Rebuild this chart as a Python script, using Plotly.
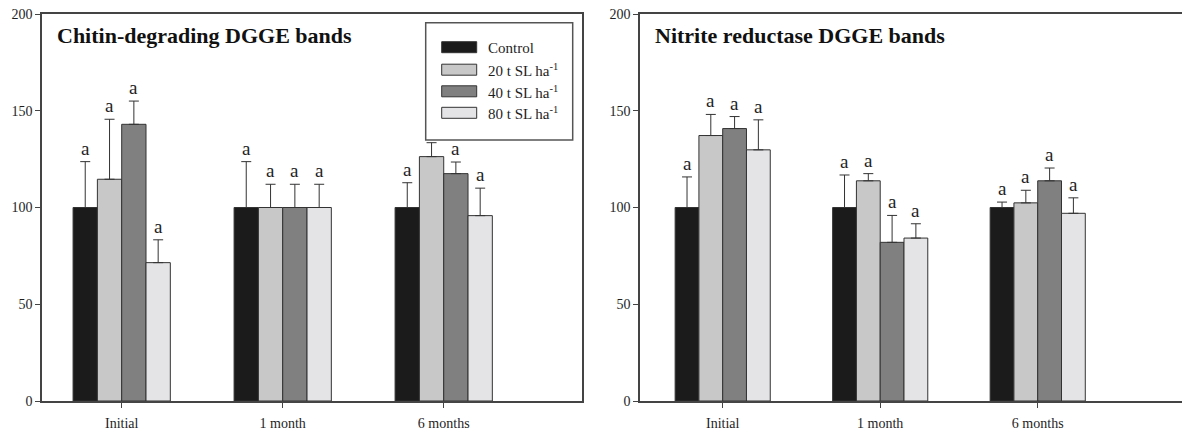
import plotly.graph_objects as go

# ---- data -------------------------------------------------------------
times = ["Initial", "1 month", "6 months"]
treatments = ["Control", "20 t SL ha<sup>-1</sup>", "40 t SL ha<sup>-1</sup>", "80 t SL ha<sup>-1</sup>"]

# Chitin-degrading DGGE bands (mean, upper error)
chitin_mean = {
    "Control": [100.0, 100.0, 100.0],
    "20t": [114.6, 100.0, 126.3],
    "40t": [143.0, 100.0, 117.5],
    "80t": [71.5, 100.0, 95.8],
}
chitin_err = {
    "Control": [23.7, 23.7, 12.8],
    "20t": [31.0, 12.0, 7.2],
    "40t": [12.0, 12.0, 6.0],
    "80t": [11.8, 12.0, 14.2],
}
chitin_letters = {
    "Control": ["a", "a", "a"],
    "20t": ["a", "a", ""],   # letter under the legend box is not shown
    "40t": ["a", "a", "a"],
    "80t": ["a", "a", "a"],
}

# Nitrite reductase DGGE bands (mean, upper error)
nitrite_mean = {
    "Control": [100.0, 100.0, 100.0],
    "20t": [137.2, 113.8, 102.4],
    "40t": [140.8, 82.0, 113.8],
    "80t": [129.8, 84.2, 97.0],
}
nitrite_err = {
    "Control": [15.8, 16.8, 2.8],
    "20t": [10.9, 3.7, 6.5],
    "40t": [6.2, 13.9, 6.6],
    "80t": [15.5, 7.4, 8.0],
}
nitrite_letters = {
    "Control": ["a", "a", "a"],
    "20t": ["a", "a", "a"],
    "40t": ["a", "a", "a"],
    "80t": ["a", "a", "a"],
}

keys = ["Control", "20t", "40t", "80t"]
fills = ["#1b1b1b", "#c8c8c8", "#808080", "#e4e3e6"]
y_ticks = [0, 50, 100, 150, 200]

# ---- layout constants -------------------------------------------------
W, H = 1182, 432
M_T, M_B = 14, 31
PLOT_H = H - M_T - M_B
SERIF = "Liberation Serif"
INK = "#1e1e1e"
LINE = "#444444"
BARGAP = 0.396
BW = (1 - BARGAP) / len(keys)


def px_x(px):
    return px / W


def px_y(py):
    return (H - M_B - py) / PLOT_H


fig = go.Figure()

panels = [
    ("x", "y", chitin_mean, chitin_err, chitin_letters),
    ("x2", "y2", nitrite_mean, nitrite_err, nitrite_letters),
]

annotations = []
for xa, ya, means, errs, letters in panels:
    for k, key in enumerate(keys):
        fig.add_trace(go.Bar(
            x=times, y=means[key], xaxis=xa, yaxis=ya,
            name=treatments[k], showlegend=False,
            marker=dict(color=fills[k], line=dict(color="#333333", width=1)),
            error_y=dict(type="data", array=errs[key], arrayminus=[0] * len(times),
                         symmetric=False, color="#333333", thickness=1, width=5),
        ))
        for i in range(len(times)):
            if not letters[key][i]:
                continue
            annotations.append(dict(
                x=i + (k - 1.5) * BW, y=means[key][i] + errs[key][i],
                xref=xa, yref=ya, text=letters[key][i], showarrow=False,
                yanchor="bottom", xanchor="center", yshift=1,
                font=dict(family=SERIF, size=19, color=INK),
            ))

axis_common = dict(
    showline=True, linecolor=LINE, linewidth=1.5, showgrid=False, zeroline=False,
    ticks="outside", ticklen=5, tickwidth=1, tickcolor=LINE,
    tickfont=dict(family=SERIF, size=14, color=INK),
)

fig.update_layout(
    width=W, height=H,
    margin=dict(l=0, r=0, t=M_T, b=M_B),
    paper_bgcolor="white", plot_bgcolor="white",
    barmode="group", bargap=BARGAP, bargroupgap=0,
    xaxis=dict(domain=[px_x(42), px_x(581.7)], range=[-0.495, 2.857],
               mirror=True, anchor="y", ticklabelstandoff=3, **axis_common),
    yaxis=dict(domain=[0, 1], range=[0, 200], tickvals=y_ticks,
               mirror=True, anchor="x", **axis_common),
    xaxis2=dict(domain=[px_x(640), 1.0], range=[-0.525, 2.916],
                mirror=True, anchor="y2", ticklabelstandoff=3, **axis_common),
    yaxis2=dict(domain=[0, 1], range=[0, 200], tickvals=y_ticks,
                mirror=False, anchor="x2", **axis_common),
)

# panel titles
annotations.append(dict(x=px_x(55), y=px_y(36), xref="paper", yref="paper",
                        text="<b>Chitin-degrading DGGE bands</b>", showarrow=False,
                        xanchor="left", yanchor="middle",
                        font=dict(family=SERIF, size=22, color="#111111")))
annotations.append(dict(x=px_x(653), y=px_y(36), xref="paper", yref="paper",
                        text="<b>Nitrite reductase DGGE bands</b>", showarrow=False,
                        xanchor="left", yanchor="middle",
                        font=dict(family=SERIF, size=22, color="#111111")))

# legend box inside the left panel
shapes = [dict(type="rect", xref="paper", yref="paper",
               x0=px_x(425.7), x1=px_x(572.7), y0=px_y(140), y1=px_y(22.7),
               fillcolor="white", line=dict(color="#555555", width=1.5), layer="above")]
row_centers = [47.2, 69.7, 91.3, 112.8]
for k, cy in enumerate(row_centers):
    shapes.append(dict(type="rect", xref="paper", yref="paper",
                       x0=px_x(441.7), x1=px_x(476.7), y0=px_y(cy + 5.5), y1=px_y(cy - 5.5),
                       fillcolor=fills[k], line=dict(color="#333333", width=1), layer="above"))
    annotations.append(dict(x=px_x(486), y=px_y(cy + 0.5), xref="paper", yref="paper",
                            text=treatments[k], showarrow=False,
                            xanchor="left", yanchor="middle",
                            font=dict(family=SERIF, size=15, color=INK)))

fig.update_layout(annotations=annotations, shapes=shapes)

fig.write_html("out.html")
